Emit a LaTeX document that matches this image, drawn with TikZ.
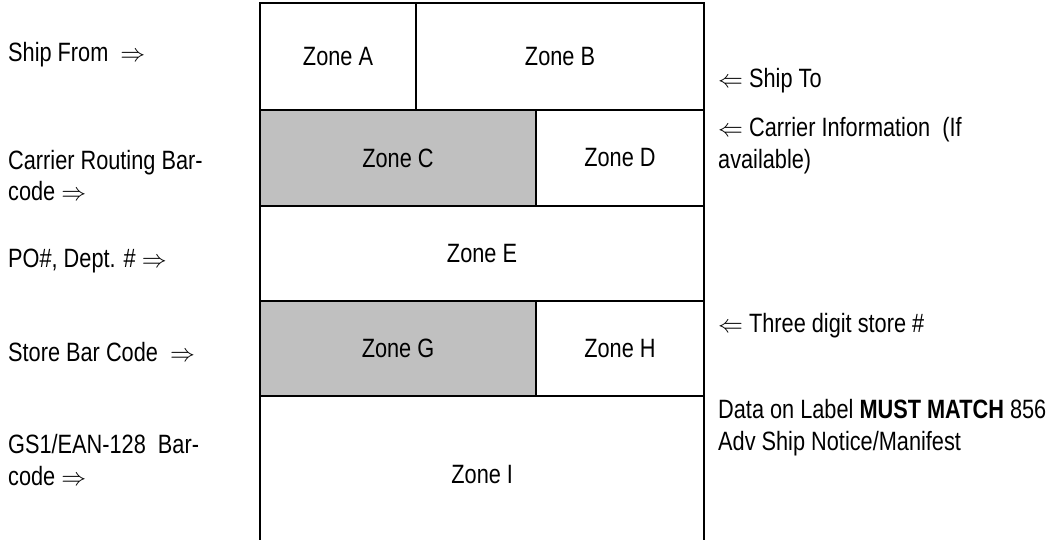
\documentclass[tikz,border=0pt]{standalone}
\usepackage{fontspec}
\setmainfont[FakeStretch=0.82]{Liberation Sans}
\definecolor{zonegray}{HTML}{C0C0C0}
\begin{document}
\begin{tikzpicture}[x=1pt,y=-1pt,
  every node/.style={font=\fontsize{26.5}{32}\selectfont},
  zone/.style={draw, line width=2pt, inner sep=0pt, outer sep=0pt, anchor=north west},
  shaded/.style={zone, fill=zonegray},
  sidelabel/.style={anchor=base west, align=left, inner sep=0pt}]
\useasboundingbox (0,0) rectangle (1052,540);

% label layout zones
\node[zone, minimum width=156pt, minimum height=107pt] (A) at (260,3) {Zone A};
\node[zone, minimum width=288pt, minimum height=107pt] (B) at (416,3) {Zone B};
\node[shaded, minimum width=276pt, minimum height=96pt] (C) at (260,110) {Zone C};
\node[zone, minimum width=168pt, minimum height=96pt] (D) at (536,110) {Zone D};
\node[zone, minimum width=444pt, minimum height=95pt] (E) at (260,206) {Zone E};
\node[shaded, minimum width=276pt, minimum height=95pt] (G) at (260,301) {Zone G};
\node[zone, minimum width=168pt, minimum height=95pt] (H) at (536,301) {Zone H};
% bottom zone runs off the label edge: no bottom rule
\node[inner sep=0pt, minimum width=444pt, minimum height=156pt, anchor=north west] (I) at (260,396) {Zone I};
\draw[line width=2pt] (I.south west) |- (I.north east) -- (I.south east);

% descriptions on the left (base = baseline of the last line)
\node[sidelabel] (shipfrom) at (8,62) {Ship From~ $\Rightarrow$};
\node[sidelabel] (routing) at (8,201) {Carrier Routing Bar-\\code $\Rightarrow$};
\node[sidelabel] (po) at (8,267) {PO\#, Dept. \# $\Rightarrow$};
\node[sidelabel] (store) at (8,361) {Store Bar Code~ $\Rightarrow$};
\node[sidelabel] (gs1) at (8,485) {GS1/EAN-128~ Bar-\\code $\Rightarrow$};

% descriptions on the right
\node[sidelabel] (shipto) at (718,88) {$\Leftarrow$ Ship To};
\node[sidelabel] (carrier) at (718,169) {$\Leftarrow$ Carrier Information~ (If\\available)};
\node[sidelabel] (storeno) at (718,332) {$\Leftarrow$ Three digit store \#};
\node[sidelabel] (asn) at (718,450) {Data on Label \textbf{MUST MATCH} 856\\Adv Ship Notice/Manifest};
\end{tikzpicture}
\end{document}
